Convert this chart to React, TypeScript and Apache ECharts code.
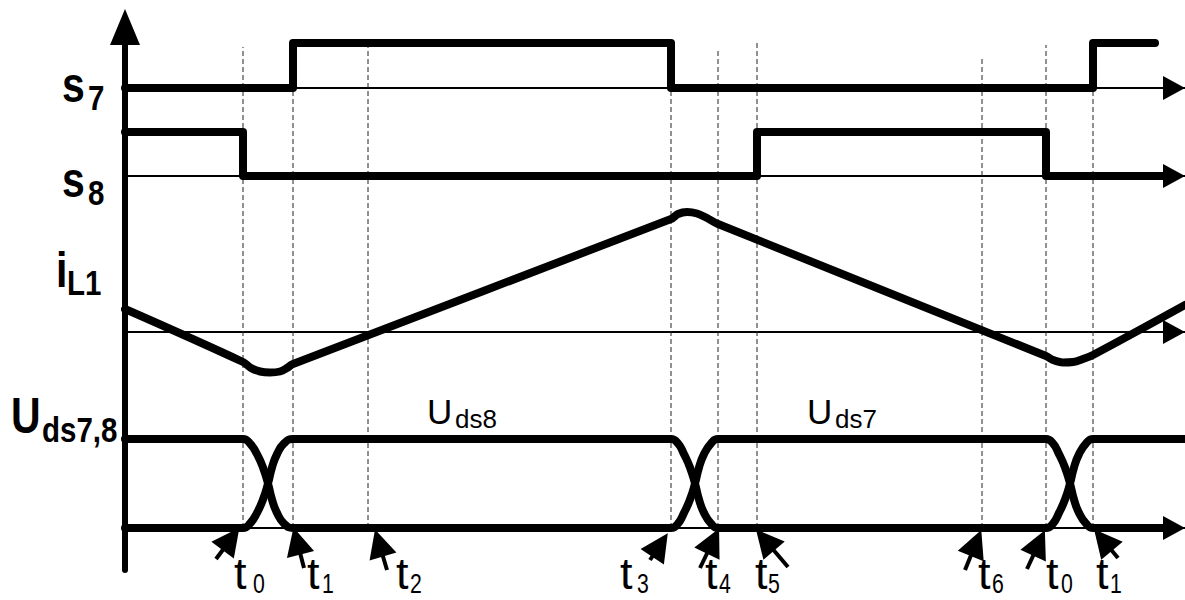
import React, { useEffect, useRef } from "react";
import * as echarts from "echarts";

// ---------- data ----------
const T_MAX = 1060; // time axis span (arbitrary units)

// switching instants t0 .. t6, t0, t1 (next period)
const EVENT_SUBS = ["0", "1", "2", "3", "4", "5", "6", "0", "1"];
const EVENT_TIMES = [118, 168, 243, 546, 593, 632, 857, 921, 968];
// top of every dashed marker (overlay units) and common bottom
const DASH_TOP = [523, 523, 523, 525, 522, 527, 513, 525, 523];
const DASH_BOTTOM = 42;

// annotation arrows (overlay units): tail -> head
const ARROW_TAILS = [[91, 11], [179, 2], [262, 0], [525, 10], [575, 2], [663, 3], [840, 0], [902, 1], [993, 12]];
const ARROW_HEADS = [[106, 31], [172, 29], [254, 27], [535, 25], [588, 29], [640, 30], [851, 27], [914, 27], [978, 30]];

// gate signals (0 = off, 1 = on)
const S7 = [[0, 0], [168, 0], [168, 1], [546, 1], [546, 0], [968, 0], [968, 1], [1030, 1]];
const S8 = [[0, 1], [118, 1], [118, 0], [632, 0], [632, 1], [921, 1], [921, 0], [1038, 0]];

// inductor current iL1 (arbitrary units)
const IL1 = [
  [0, 2.3], [118, -3.0], [126, -3.6], [135, -3.95], [145, -4.05], [155, -3.95], [162, -3.6], [168, -3.2],
  [546, 11.3], [553, 11.8], [562, 12.0], [572, 11.85], [582, 11.4], [593, 10.8],
  [921, -2.4], [928, -2.8], [938, -3.05], [948, -3.0], [958, -2.7], [968, -2.3], [1060, 2.7],
];

// drain-source voltages (normalised)
const UDS7 = [
  [0, 1], [118, 1], [125, 0.95], [132, 0.83], [138, 0.68], [143, 0.5], [147, 0.32], [152, 0.17], [159, 0.05], [168, 0],
  [546, 0], [553, 0.05], [559, 0.17], [565, 0.32], [570, 0.5], [574, 0.68], [579, 0.83], [586, 0.95], [593, 1],
  [921, 1], [928, 0.95], [934, 0.83], [940, 0.68], [945, 0.5], [949, 0.32], [954, 0.17], [961, 0.05], [968, 0], [1042, 0],
];
const UDS8 = [
  [0, 0], [118, 0], [125, 0.05], [132, 0.17], [138, 0.32], [143, 0.5], [147, 0.68], [152, 0.83], [159, 0.95], [168, 1],
  [546, 1], [553, 0.95], [559, 0.83], [565, 0.68], [570, 0.5], [574, 0.32], [579, 0.17], [586, 0.05], [593, 0],
  [921, 0], [928, 0.05], [934, 0.17], [940, 0.32], [945, 0.5], [949, 0.68], [954, 0.83], [961, 0.95], [968, 1], [1060, 1],
];

// texts
const AXIS_LABELS = [["s", "7"], ["s", "8"], ["i", "L1"], ["U", "ds7,8"]];
const TRACE_LABELS = [["U", "ds8"], ["U", "ds7"]];
const EVENT_LETTER = "t";

// ---------- layout ----------
const BOLD_FONT = "'Liberation Sans', Arial, sans-serif";
const REG_FONT = "'Liberation Sans', Arial, sans-serif";

const AXIS_LABEL_POS = [
  { x: 62, b: 102, sx: 88, sb: 110 },
  { x: 62, b: 197, sx: 88, sb: 205 },
  { x: 56, b: 287, sx: 67, sb: 295 },
  { x: 11, b: 433, sx: 42, sb: 442 },
];
const TRACE_LABEL_POS = [
  { x: 427, b: 424, sx: 455, sb: 428 },
  { x: 807, b: 424, sx: 835, sb: 428 },
];
const EVENT_T_X = [234, 307, 396, 620, 705, 755, 978, 1046, 1096];
const EVENT_SUB_X = [253, 322, 410, 637, 719, 768, 992, 1061, 1110];

function txt(text: string, x: number, baseline: number, size: number, weight: string, family: string, scaleX = 1) {
  return {
    type: "text",
    x,
    y: baseline - 0.3465 * size,
    scaleX,
    silent: true,
    z: 20,
    style: {
      text,
      fill: "#000",
      fontSize: size,
      fontWeight: weight,
      fontFamily: family,
      align: "left",
      verticalAlign: "middle",
      textAlign: "left",
      textVerticalAlign: "middle",
    },
  };
}

export default function App() {
  const ref = useRef<HTMLDivElement>(null);

  useEffect(() => {
    if (!ref.current) return;
    const chart = echarts.init(ref.current, undefined, { renderer: "svg" });

    const thick = { color: "#000", width: 8, cap: "round", join: "round" };
    const arrowAxis = {
      show: true,
      onZero: true,
      symbol: ["none", "triangle"],
      symbolSize: [24, 22],
      symbolOffset: [0, -11],
      lineStyle: { color: "#000", width: 2 },
    };
    const xBase = (gridIndex: number, showLine: boolean) => ({
      type: "value",
      gridIndex,
      min: 0,
      max: T_MAX,
      axisLine: showLine ? arrowAxis : { show: false },
      axisTick: { show: false },
      axisLabel: { show: false },
      splitLine: { show: false },
    });
    const yHidden = (gridIndex: number, min: number, max: number) => ({
      type: "value",
      gridIndex,
      min,
      max,
      show: false,
      splitLine: { show: false },
    });

    const graphic: any[] = [];
    AXIS_LABELS.forEach(([m, s], i) => {
      const p = AXIS_LABEL_POS[i];
      graphic.push(txt(m, p.x, p.b, 50, "bold", BOLD_FONT, 0.82));
      graphic.push(txt(s, p.sx, p.sb, 36, "bold", BOLD_FONT, 0.82));
    });
    TRACE_LABELS.forEach(([m, s], i) => {
      const p = TRACE_LABEL_POS[i];
      graphic.push(txt(m, p.x, p.b, 35, "normal", REG_FONT));
      graphic.push(txt(s, p.sx, p.sb, 26, "normal", REG_FONT));
    });
    EVENT_SUBS.forEach((s, i) => {
      graphic.push(txt(EVENT_LETTER, EVENT_T_X[i], 589, 45, "normal", REG_FONT));
      graphic.push(txt(s, EVENT_SUB_X[i], 593, 28, "normal", REG_FONT, 0.76));
    });

    const dashedSeries = EVENT_TIMES.map((t, i) => ({
      type: "line",
      xAxisIndex: 4,
      yAxisIndex: 4,
      data: [[t, DASH_BOTTOM], [t, DASH_TOP[i]]],
      symbol: "none",
      silent: true,
      z: 1,
      lineStyle: { color: "#222", width: 1, type: [5, 3] },
    }));

    chart.setOption({
      animation: false,
      backgroundColor: "#fff",
      grid: [
        { left: 125, width: 1060, top: 43, height: 45 },
        { left: 125, width: 1060, top: 132, height: 44 },
        { left: 125, width: 1060, top: 202, height: 180 },
        { left: 125, width: 1060, top: 439, height: 89 },
        { left: 125, width: 1060, top: 27, height: 543 },
      ],
      xAxis: [xBase(0, true), xBase(1, true), xBase(2, true), xBase(3, true), { ...xBase(4, false), show: false }],
      yAxis: [
        yHidden(0, 0, 1),
        yHidden(1, 0, 1),
        yHidden(2, -5, 13),
        yHidden(3, 0, 1),
        {
          type: "value",
          gridIndex: 4,
          min: 0,
          max: 543,
          axisLine: {
            show: true,
            symbol: ["none", "triangle"],
            symbolSize: [30, 36],
            lineStyle: { color: "#000", width: 6, cap: "round" },
          },
          axisTick: { show: false },
          axisLabel: { show: false },
          splitLine: { show: false },
        },
      ],
      series: [
        ...dashedSeries,
        { type: "line", name: "s7", xAxisIndex: 0, yAxisIndex: 0, data: S7, symbol: "none", z: 3, lineStyle: thick },
        { type: "line", name: "s8", xAxisIndex: 1, yAxisIndex: 1, data: S8, symbol: "none", z: 3, lineStyle: thick },
        { type: "line", name: "iL1", xAxisIndex: 2, yAxisIndex: 2, data: IL1, symbol: "none", smooth: 0.35, clip: false, z: 3, lineStyle: thick },
        { type: "line", name: "Uds7", xAxisIndex: 3, yAxisIndex: 3, data: UDS7, symbol: "none", smooth: 0.5, clip: false, z: 3, lineStyle: thick },
        { type: "line", name: "Uds8", xAxisIndex: 3, yAxisIndex: 3, data: UDS8, symbol: "none", smooth: 0.5, clip: false, z: 3, lineStyle: thick },
        {
          type: "lines",
          coordinateSystem: "cartesian2d",
          xAxisIndex: 4,
          yAxisIndex: 4,
          symbol: ["none", "triangle"],
          symbolSize: 28,
          z: 4,
          silent: true,
          lineStyle: { color: "#000", width: 4, opacity: 1, curveness: 0 },
          itemStyle: { color: "#000" },
          data: ARROW_TAILS.map((tail, i) => ({ coords: [tail, ARROW_HEADS[i]] })),
        },
      ],
      graphic,
    });

    return () => chart.dispose();
  }, []);

  return <div ref={ref} style={{ position: "fixed", left: 0, top: 0, width: 1185, height: 600 }} />;
}
